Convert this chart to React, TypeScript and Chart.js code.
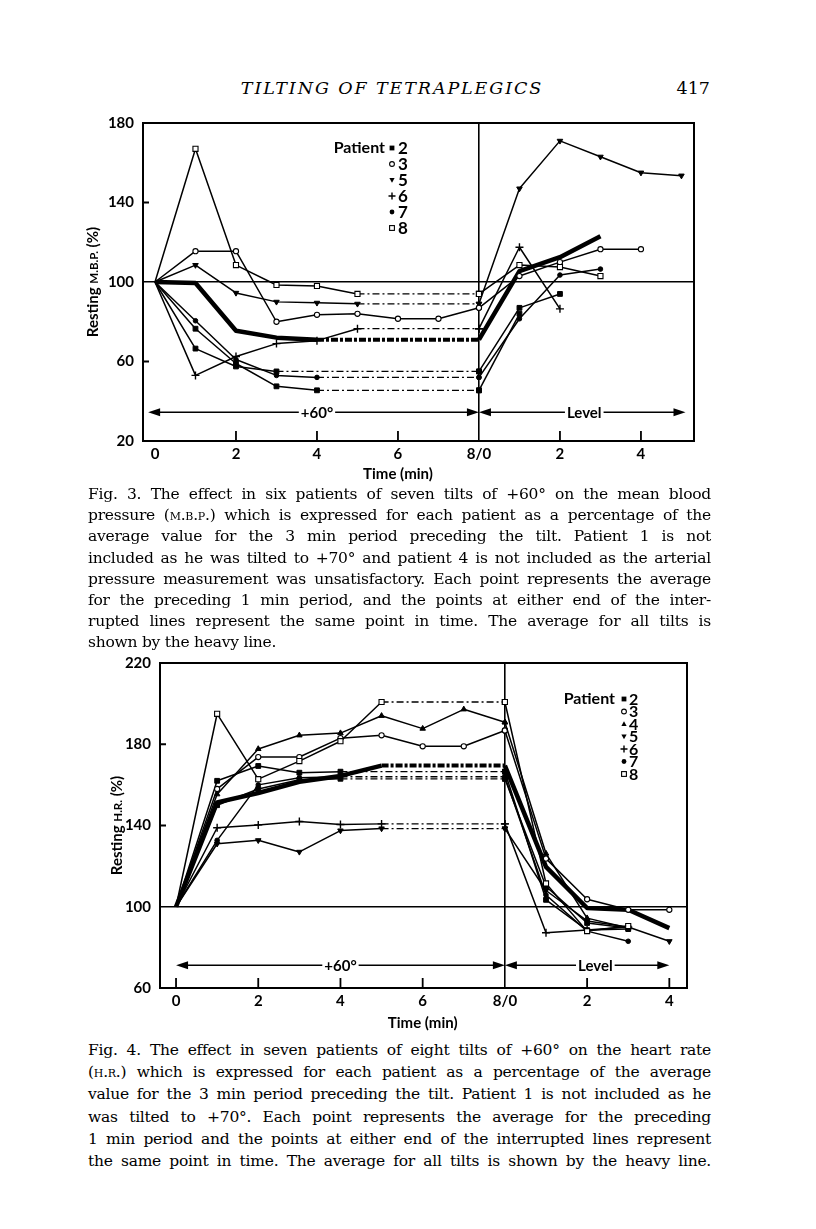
import React, { useEffect, useRef } from "react";
import { Chart, registerables } from "chart.js";
Chart.register(...registerables);

// ---------------- shared axis data ----------------
const xTickValues = [0, 2, 4, 6, 8, 10, 12];
const xTickLabels = ["0", "2", "4", "6", "8/0", "2", "4"];
const TILT_END = 8;

// ---------------- Fig. 3 : M.B.P. ----------------
const mbpYTicks = [20, 60, 100, 140, 180];
// tilt values: minutes 0..n of the +60 tilt; level values: minutes 0..m after return (index 0 = 8/0)
const mbpP2aTilt = [100, 66.5, 57.5, 55];
const mbpP2aLevel = [55, 87, 94];
const mbpP2bTilt = [100, 76.5, 59, 47.5, 45.5];
const mbpP2bLevel = [45.5, 84];
const mbpP3Tilt = [100, 115.5, 115.5, 80, 83.5, 84, 81.5, 81.5, 87];
const mbpP3Level = [87, 103, 110, 116.5, 116.5];
const mbpP5Tilt = [100, 108.5, 94.5, 90, 89.5, 89];
const mbpP5Level = [89, 147, 171, 163, 155, 153.5];
const mbpP6Tilt = [100, 53, 62.5, 69, 70.5, 76.5];
const mbpP6Level = [76.5, 117.5, 86.5];
const mbpP7Tilt = [100, 80.5, 61, 53, 52];
const mbpP7Level = [52, 81.5, 103.5, 106.5];
const mbpP8Tilt = [100, 167, 108.5, 98.5, 98, 94];
const mbpP8Level = [94, 108.5, 107.5, 103];
const mbpMeanTilt = [100, 99.5, 75.5, 72, 71];
const mbpMeanLevel = [71, 105.5, 112.5, 123];
const mbpLegendNumbers = ["2", "3", "5", "6", "7", "8"];
const mbpLegendKinds = ["sq", "ci", "td", "pl", "dot", "sqo"];

// ---------------- Fig. 4 : H.R. ----------------
const hrYTicks = [60, 100, 140, 180, 220];
const hrP2Tilt = [100, 162, 169.3, 166, 166.5];
const hrP2Level = [166.5, 103.4, 88.5, 89];
const hrP2bTilt = [100, 150, 158, 162.5, 163];
const hrP2bLevel = [163, 110, 92, 89.5];
const hrP3Tilt = [100, 158, 173.7, 173.7, 183, 184.4, 179, 179, 186.8];
const hrP3Level = [186.8, 123.7, 103.7, 98.5, 98.5];
const hrP4Tilt = [100, 155.4, 177.7, 184.4, 185.5, 194, 187.7, 197.2, 190.8];
const hrP4Level = [190.8, 126.2, 94.4, 89.5];
const hrP5Tilt = [100, 131, 132.7, 127, 137.5, 138.5];
const hrP5Level = [138.5, 108, 93, 90, 83];
const hrP6Tilt = [100, 138.9, 140.3, 142, 140.5, 140.8];
const hrP6Level = [140.8, 87.2, 88.5, 90];
const hrP7Tilt = [100, 132.7, 160, 163.5, 164];
const hrP7Level = [164, 105.8, 88, 83];
const hrP8Tilt = [100, 195, 162.8, 171.7, 181.5, 200.8];
const hrP8Level = [200.8, 111.5, 88, 90.5];
const hrMeanTilt = [100, 151.4, 156, 161.5, 164.4, 169.5];
const hrMeanLevel = [169.5, 119.6, 99.4, 98.5, 89.5];
const hrLegendNumbers = ["2", "3", "4", "5", "6", "7", "8"];
const hrLegendKinds = ["sq", "ci", "tu", "td", "pl", "dot", "sqo"];

const mbpSeries = [
  { kind: "sqo", tilt: mbpP8Tilt, level: mbpP8Level },
  { kind: "ci", tilt: mbpP3Tilt, level: mbpP3Level },
  { kind: "td", tilt: mbpP5Tilt, level: mbpP5Level },
  { kind: "pl", tilt: mbpP6Tilt, level: mbpP6Level },
  { kind: "dot", tilt: mbpP7Tilt, level: mbpP7Level },
  { kind: "sq", tilt: mbpP2aTilt, level: mbpP2aLevel },
  { kind: "sq", tilt: mbpP2bTilt, level: mbpP2bLevel },
  { kind: "heavy", tilt: mbpMeanTilt, level: mbpMeanLevel },
];

const hrSeries = [
  { kind: "sqo", tilt: hrP8Tilt, level: hrP8Level },
  { kind: "tu", tilt: hrP4Tilt, level: hrP4Level },
  { kind: "ci", tilt: hrP3Tilt, level: hrP3Level },
  { kind: "sq", tilt: hrP2Tilt, level: hrP2Level },
  { kind: "sq", tilt: hrP2bTilt, level: hrP2bLevel },
  { kind: "dot", tilt: hrP7Tilt, level: hrP7Level },
  { kind: "pl", tilt: hrP6Tilt, level: hrP6Level },
  { kind: "td", tilt: hrP5Tilt, level: hrP5Level },
  { kind: "heavy", tilt: hrMeanTilt, level: hrMeanLevel },
];

const FONT = "Lato, 'Open Sans', sans-serif";

function markerStyle(kind: string) {
  switch (kind) {
    case "sq": return { style: "rect", r: 3.4, fill: "#000", rot: 0, bw: 1 };
    case "sqo": return { style: "rect", r: 3.6, fill: "#fff", rot: 0, bw: 1.1 };
    case "ci": return { style: "circle", r: 2.6, fill: "#fff", rot: 0, bw: 1.1 };
    case "dot": return { style: "circle", r: 2.3, fill: "#000", rot: 0, bw: 1 };
    case "tu": return { style: "triangle", r: 3.2, fill: "#000", rot: 0, bw: 1 };
    case "td": return { style: "triangle", r: 3.2, fill: "#000", rot: 180, bw: 1 };
    case "pl": return { style: "cross", r: 4, fill: "#000", rot: 0, bw: 1.4 };
    default: return { style: "circle", r: 0, fill: "#000", rot: 0, bw: 1 };
  }
}

function buildDatasets(series: any[]) {
  const out: any[] = [];
  for (const s of series) {
    const heavy = s.kind === "heavy";
    const st = markerStyle(s.kind);
    const base = {
      borderColor: "#000",
      borderWidth: heavy ? 4.5 : 1.5,
      tension: 0,
      fill: false,
      pointStyle: st.style,
      pointRotation: st.rot,
      pointBackgroundColor: st.fill,
      pointBorderColor: "#000",
      pointBorderWidth: st.bw,
      pointHoverRadius: 0,
      borderJoinStyle: "round",
    };
    const tiltPts = s.tilt.map((v: number, i: number) => ({ x: i, y: v }));
    out.push({
      ...base,
      data: tiltPts,
      pointRadius: tiltPts.map((_: any, i: number) => (i === 0 || heavy ? 0 : st.r)),
    });
    const last = s.tilt.length - 1;
    if (last < TILT_END) {
      out.push({
        ...base,
        data: [
          { x: last, y: s.tilt[last] },
          { x: TILT_END, y: s.level[0] },
        ],
        borderDash: heavy ? [7, 2, 3, 2] : [7, 3, 2, 3],
        borderWidth: heavy ? 4 : 1.3,
        pointRadius: heavy ? 0 : [0, st.r],
      });
    }
    out.push({
      ...base,
      data: s.level.map((v: number, i: number) => ({ x: TILT_END + i, y: v })),
      pointRadius: heavy ? 0 : st.r,
    });
  }
  return out;
}

function drawMarker(ctx: CanvasRenderingContext2D, kind: string, x: number, y: number, r: number) {
  ctx.save();
  ctx.lineWidth = 1.1;
  ctx.strokeStyle = "#000";
  ctx.fillStyle = "#000";
  ctx.beginPath();
  if (kind === "sq") {
    ctx.fillRect(x - r, y - r, 2 * r, 2 * r);
  } else if (kind === "sqo") {
    ctx.fillStyle = "#fff";
    ctx.fillRect(x - r, y - r, 2 * r, 2 * r);
    ctx.strokeRect(x - r, y - r, 2 * r, 2 * r);
  } else if (kind === "ci") {
    ctx.arc(x, y, r, 0, Math.PI * 2);
    ctx.fillStyle = "#fff";
    ctx.fill();
    ctx.stroke();
  } else if (kind === "dot") {
    ctx.arc(x, y, r, 0, Math.PI * 2);
    ctx.fill();
  } else if (kind === "tu" || kind === "td") {
    const d = kind === "tu" ? 1 : -1;
    ctx.moveTo(x, y - d * r * 1.1);
    ctx.lineTo(x - r * 1.1, y + d * r * 0.8);
    ctx.lineTo(x + r * 1.1, y + d * r * 0.8);
    ctx.closePath();
    ctx.fill();
  } else if (kind === "pl") {
    ctx.lineWidth = 1.4;
    ctx.moveTo(x - r - 0.5, y);
    ctx.lineTo(x + r + 0.5, y);
    ctx.moveTo(x, y - r - 0.5);
    ctx.lineTo(x, y + r + 0.5);
    ctx.stroke();
  }
  ctx.restore();
}

function makeDecor(p: any) {
  return {
    id: "decor",
    afterDraw(chart: any) {
      const { ctx, chartArea: a, scales } = chart;
      const xs = scales.x;
      const ys = scales.y;
      ctx.save();
      ctx.strokeStyle = "#000";
      ctx.fillStyle = "#000";
      // frame
      ctx.lineWidth = 2;
      ctx.strokeRect(a.left, a.top, a.right - a.left, a.bottom - a.top);
      // inward ticks
      ctx.lineWidth = 1.8;
      ctx.beginPath();
      p.xInTicks.forEach((v: number) => {
        const px = xs.getPixelForValue(v);
        ctx.moveTo(px, a.bottom);
        ctx.lineTo(px, a.bottom - 10);
      });
      p.yInTicks.forEach((v: number) => {
        const py = ys.getPixelForValue(v);
        ctx.moveTo(a.left, py);
        ctx.lineTo(a.left + 6, py);
      });
      ctx.stroke();
      // arrows
      const ay = ys.getPixelForValue(p.arrowY);
      ctx.font = `bold 15px ${FONT}`;
      ctx.textAlign = "center";
      ctx.textBaseline = "middle";
      p.arrows.forEach((seg: any) => {
        const x1 = xs.getPixelForValue(seg.from);
        const x2 = xs.getPixelForValue(seg.to);
        const lx = xs.getPixelForValue(seg.at);
        const w = ctx.measureText(seg.label).width;
        ctx.lineWidth = 1.6;
        ctx.beginPath();
        ctx.moveTo(x1 + 4, ay);
        ctx.lineTo(lx - w / 2 - 2, ay);
        ctx.moveTo(lx + w / 2 + 2, ay);
        ctx.lineTo(x2 - 4, ay);
        ctx.stroke();
        [
          [x1, -1],
          [x2, 1],
        ].forEach(([xt, d]) => {
          ctx.beginPath();
          ctx.moveTo(xt, ay);
          ctx.lineTo(xt - d * 12, ay - 4);
          ctx.lineTo(xt - d * 12, ay + 4);
          ctx.closePath();
          ctx.fill();
        });
        ctx.fillText(seg.label, lx, ay + 1);
      });
      // legend
      const lg = p.legend;
      ctx.textBaseline = "middle";
      ctx.font = `bold ${lg.font}px ${FONT}`;
      ctx.textAlign = "right";
      ctx.fillText("Patient", a.left + lg.textRight, a.top + lg.top);
      ctx.textAlign = "left";
      ctx.font = `bold ${lg.numFont}px ${FONT}`;
      lg.numbers.forEach((n: string, i: number) => {
        const yy = a.top + lg.top + i * lg.step;
        drawMarker(ctx, lg.kinds[i], a.left + lg.markerX, yy, lg.kinds[i] === "pl" ? 3 : 2.4);
        ctx.fillText(n, a.left + lg.numX, yy + 0.5);
      });
      // y title (with small caps)
      ctx.save();
      ctx.translate(a.left - p.yTitleOffset, (a.top + a.bottom) / 2);
      ctx.rotate(-Math.PI / 2);
      ctx.textAlign = "left";
      ctx.textBaseline = "alphabetic";
      let total = 0;
      p.yTitle.forEach((t: any) => {
        ctx.font = `bold ${t.size}px ${FONT}`;
        total += ctx.measureText(t.text).width;
      });
      let cx = -total / 2;
      p.yTitle.forEach((t: any) => {
        ctx.font = `bold ${t.size}px ${FONT}`;
        ctx.fillText(t.text, cx, 5);
        cx += ctx.measureText(t.text).width;
      });
      ctx.restore();
      // x title
      ctx.font = `bold 15px ${FONT}`;
      ctx.textAlign = "center";
      ctx.textBaseline = "middle";
      ctx.fillText("Time (min)", xs.getPixelForValue(6), a.bottom + p.xTitleDy);
      ctx.restore();
    },
  };
}

function makeConfig(p: any) {
  const yMin = p.yTicks[0];
  const yMax = p.yTicks[p.yTicks.length - 1];
  const yStep = p.yTicks[1] - p.yTicks[0];
  return {
    type: "line",
    data: { datasets: buildDatasets(p.series) },
    options: {
      animation: false,
      responsive: false,
      maintainAspectRatio: false,
      events: [],
      layout: { padding: { left: 0, right: p.padRight, top: p.padTop, bottom: 0 } },
      plugins: { legend: { display: false }, tooltip: { enabled: false } },
      scales: {
        x: {
          type: "linear",
          min: p.xMin,
          max: p.xMax,
          afterFit: (s: any) => {
            s.height = p.xAxisH;
          },
          afterBuildTicks: (s: any) => {
            s.ticks = xTickValues.map((v) => ({ value: v }));
          },
          ticks: {
            autoSkip: false,
            maxRotation: 0,
            padding: 4,
            color: "#000",
            font: { family: FONT, size: 15, weight: "bold" },
            callback: (_v: any, i: number) => xTickLabels[i],
          },
          grid: {
            color: (c: any) => (c.tick && c.tick.value === TILT_END ? "#000" : "rgba(0,0,0,0)"),
            lineWidth: 1.6,
            drawTicks: false,
          },
          border: { display: true, color: "#000", width: 2 },
        },
        y: {
          type: "linear",
          min: yMin,
          max: yMax,
          afterFit: (s: any) => {
            s.width = p.yAxisW;
          },
          ticks: {
            stepSize: yStep,
            padding: 9,
            color: "#000",
            font: { family: FONT, size: 15, weight: "bold" },
          },
          grid: {
            color: (c: any) => (c.tick && c.tick.value === 100 ? "#000" : "rgba(0,0,0,0)"),
            lineWidth: 1.6,
            drawTicks: false,
          },
          border: { display: true, color: "#000", width: 2 },
        },
      },
    },
    plugins: [makeDecor(p)],
  };
}

function ChartCanvas({ top, height, params }: { top: number; height: number; params: any }) {
  const ref = useRef<HTMLCanvasElement | null>(null);
  useEffect(() => {
    if (!ref.current) return;
    const chart = new Chart(ref.current, makeConfig(params) as any);
    return () => chart.destroy();
  }, []);
  return (
    <canvas
      ref={ref}
      width={816}
      height={height}
      style={{ position: "absolute", left: 0, top, width: 816, height }}
    />
  );
}

const mbpParams = {
  series: mbpSeries,
  yTicks: mbpYTicks,
  xMin: -0.296,
  xMax: 13.31,
  padTop: 17,
  padRight: 816 - 694,
  yAxisW: 143,
  xAxisH: 49,
  xInTicks: [2, 4, 6, 10, 12],
  yInTicks: [140, 60],
  arrowY: 34.5,
  arrows: [
    { from: -0.17, to: 8, label: "+60°", at: 4 },
    { from: 8, to: 13.1, label: "Level", at: 10.6 },
  ],
  legend: { font: 16, numFont: 17, textRight: 242, markerX: 249, numX: 255, top: 25, step: 16, numbers: mbpLegendNumbers, kinds: mbpLegendKinds },
  yTitle: [
    { text: "Resting ", size: 15 },
    { text: "M.B.P.", size: 11.5 },
    { text: " (%)", size: 15 },
  ],
  yTitleOffset: 50,
  xTitleDy: 33,
};

const hrParams = {
  series: hrSeries,
  yTicks: hrYTicks,
  xMin: -0.39,
  xMax: 12.43,
  padTop: 14,
  padRight: 816 - 687,
  yAxisW: 160,
  xAxisH: 47,
  xInTicks: [0, 2, 4, 6, 10, 12],
  yInTicks: [180, 140],
  arrowY: 71.2,
  arrows: [
    { from: 0, to: 8, label: "+60°", at: 4 },
    { from: 8, to: 12, label: "Level", at: 10.2 },
  ],
  legend: { font: 16, numFont: 16, textRight: 455, markerX: 464, numX: 469, top: 36, step: 12.5, numbers: hrLegendNumbers, kinds: hrLegendKinds },
  yTitle: [
    { text: "Resting ", size: 15 },
    { text: "H.R.", size: 11.5 },
    { text: " (%)", size: 15 },
  ],
  yTitleOffset: 43,
  xTitleDy: 35,
};

const SC = ({ children }: { children: any }) => <span style={{ fontVariant: "small-caps" }}>{children}</span>;

const fig3Lines: any[] = [
  <>Fig. 3. The effect in six patients of seven tilts of +60° on the mean blood</>,
  <>pressure (<SC>m.b.p.</SC>) which is expressed for each patient as a percentage of the</>,
  <>average value for the 3 min period preceding the tilt. Patient 1 is not</>,
  <>included as he was tilted to +70° and patient 4 is not included as the arterial</>,
  <>pressure measurement was unsatisfactory. Each point represents the average</>,
  <>for the preceding 1 min period, and the points at either end of the inter-</>,
  <>rupted lines represent the same point in time. The average for all tilts is</>,
  <>shown by the heavy line.</>,
];

const fig4Lines: any[] = [
  <>Fig. 4. The effect in seven patients of eight tilts of +60° on the heart rate</>,
  <>(<SC>h.r.</SC>) which is expressed for each patient as a percentage of the average</>,
  <>value for the 3 min period preceding the tilt. Patient 1 is not included as he</>,
  <>was tilted to +70°. Each point represents the average for the preceding</>,
  <>1 min period and the points at either end of the interrupted lines represent</>,
  <>the same point in time. The average for all tilts is shown by the heavy line.</>,
];

function Caption({ lines, top, lineHeight, lastJustify }: { lines: any[]; top: number; lineHeight: number; lastJustify: boolean }) {
  return (
    <div
      style={{
        position: "absolute",
        left: 88,
        top,
        width: 623,
        fontFamily: "'DejaVu Serif', serif",
        fontSize: 15.5,
        letterSpacing: -0.25,
        lineHeight: `${lineHeight}px`,
        color: "#000",
      }}
    >
      {lines.map((ln, i) => (
        <div
          key={i}
          style={{
            whiteSpace: "nowrap",
            textAlign: "justify",
            textAlignLast: i === lines.length - 1 && !lastJustify ? "left" : "justify",
          }}
        >
          {ln}
        </div>
      ))}
    </div>
  );
}

export default function App() {
  return (
    <div style={{ position: "absolute", left: 0, top: 0, width: 816, height: 1229, background: "#fff", overflow: "hidden" }}>
      <div
        style={{
          position: "absolute",
          left: 0,
          width: 784,
          top: 77,
          textAlign: "center",
          fontFamily: "'DejaVu Serif', serif",
          fontStyle: "italic",
          fontSize: 17.5,
          letterSpacing: 1.9,
          lineHeight: "22px",
        }}
      >
        TILTING OF TETRAPLEGICS
      </div>
      <div
        style={{
          position: "absolute",
          left: 668,
          top: 77,
          width: 42,
          textAlign: "right",
          fontFamily: "'DejaVu Serif', serif",
          fontSize: 17.5,
          lineHeight: "22px",
        }}
      >
        417
      </div>
      <ChartCanvas top={105} height={385} params={mbpParams} />
      <Caption lines={fig3Lines} top={484} lineHeight={21.2} lastJustify={false} />
      <ChartCanvas top={645} height={390} params={hrParams} />
      <Caption lines={fig4Lines} top={1039} lineHeight={22.2} lastJustify={true} />
    </div>
  );
}
